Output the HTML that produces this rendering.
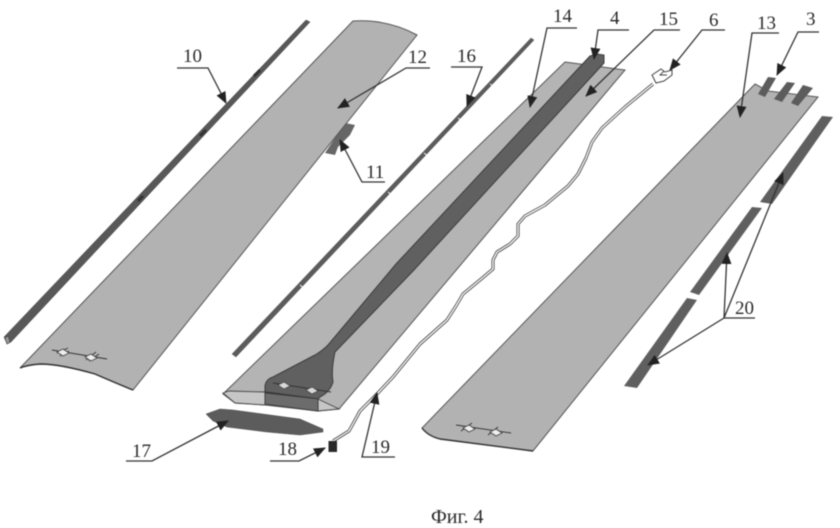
<!DOCTYPE html>
<html><head><meta charset="utf-8">
<style>
html,body{margin:0;padding:0;background:#fff;width:840px;height:528px;overflow:hidden}
svg{display:block}
text{font-family:"Liberation Serif",serif;fill:#2a2a2a;font-size:19px}
.l{fill:none;stroke:#333;stroke-width:1.3}
.e{stroke:#555;stroke-width:1}
.c{fill:none;stroke:#333;stroke-width:.9}
.d{fill:#eee;stroke:#444;stroke-width:.9}
</style></head><body>
<svg width="840" height="528" viewBox="0 0 840 528" xmlns="http://www.w3.org/2000/svg">
<defs>
<marker id="a" viewBox="0 0 12 10" refX="11" refY="5" markerWidth="12" markerHeight="10" markerUnits="userSpaceOnUse" orient="auto"><path d="M0,0L12,5L0,10z" fill="#222"/></marker>
</defs>
<g style="filter:blur(.5px)">
<!-- rod 10 -->
<path d="M306,20L310,22L11,342L7,344L4,337z" fill="#585858" stroke="#444" stroke-width=".5"/>
<path d="M5,338L8,336L10,342L7,344z" fill="#999" stroke="#444" stroke-width=".6"/>
<path d="M260,70L254,76M206,130L200,136M143,196L138,201" stroke="#333" stroke-width="3"/>
<!-- part 11 -->
<path d="M325,153L335,155L338,147L350,135L355,125L345,123z" fill="#666"/>
<!-- blade 12 -->
<path d="M353,21Q388,19 417,35L133,390Q118,384 95,374Q60,364 40,364Q27,365 20,368z" fill="#b2b2b2" class="e"/>
<path d="M20,368Q27,365 40,364Q60,364 95,374Q118,384 133,390" fill="none" stroke="#333" stroke-width="1.4"/>
<g class="c"><path d="M52,350L107,359"/><path d="M57,353L68,348M60,356L69,351M86,360L96,352M89,361L99,354"/></g>
<path d="M57,352L63,349L69,353L63,356z M85,357L91,354L97,358L91,361z" class="d"/>
<!-- rod 16 -->
<path d="M531,38L534,40L236,357L232,354z" fill="#5c5c5c" stroke="#444" stroke-width=".4"/>
<path d="M490,84L497,88M458,118L464,122M424,153L429,157M388,192L393,196M300,285L305,289" stroke="#fff" stroke-width=".9"/>
<!-- mid blade -->
<path d="M565,62L625,70L339,409L318,411L265,405L235,403L223,394z" fill="#b4b4b4" class="e"/>
<path d="M223,393L229,391L265,392L265,405L235,403z" fill="#c6c6c6" stroke="#444" stroke-width=".9"/>
<path d="M318,411L339,409L320,400L318,399z" fill="#c6c6c6" stroke="#444" stroke-width=".9"/>
<!-- spar -->
<path d="M590,56L597,54L604,55L604,63L413,271L335,352Q331,370 333,382Q330,392 320,397L318,399L318,411L265,404L265,386Q266,379 273,377L315,355Q322,351 328,345L396,264z" fill="#606060" stroke="#3c3c3c" stroke-width="1"/>
<path d="M265,392L318,399" fill="none" stroke="#333" stroke-width="1.2"/>
<path d="M265,393L318,399L318,411L265,404z" fill="#6c6c6c" stroke="#3c3c3c" stroke-width=".8"/>
<g class="c"><path d="M273,383L331,392"/></g>
<path d="M278,385L284,382L290,386L284,389z M306,390L312,387L318,391L312,394z" fill="#d8d8d8" stroke="#444" stroke-width=".7"/>
<!-- cover 17 -->
<path d="M206,414L220,409L233,410L300,419L323,429L323,432L300,435L267,432L227,427L213,421z" fill="#5c5c5c" stroke="#4a4a4a" stroke-width=".5"/>
<!-- wire -->
<g fill="none" stroke-linejoin="round">
<polyline points="653,84 625,107 602,128 592,142 586,158 578,174 568,186 545,205 525,216 518,224 518,236 510,244 497,252 493,260 493,269 480,280 463,294 456,306 447,320 420,344 393,377 375,396 360,411 354,422 349,431 333,441" stroke="#555" stroke-width="3.2"/>
<polyline points="653,84 625,107 602,128 592,142 586,158 578,174 568,186 545,205 525,216 518,224 518,236 510,244 497,252 493,260 493,269 480,280 463,294 456,306 447,320 420,344 393,377 375,396 360,411 354,422 349,431 333,441" stroke="#fff" stroke-width="1.3"/>
</g>
<path d="M652,75L661,69L665,72L672,70L672,75L664,81L656,83z" fill="#fff" stroke="#444" stroke-width="1"/>
<path d="M664,71L660,75L667,75" fill="none" stroke="#444" stroke-width=".9"/>
<rect x="328.5" y="441" width="8.5" height="11" fill="#2a2a2a"/>
<!-- blade 13 -->
<path d="M755,84L768,91L818,97L533,451L440,439Q428,436 422,428z" fill="#b2b2b2" class="e"/>
<path d="M422,428Q428,436 440,439L533,451" fill="none" stroke="#333" stroke-width="1.4"/>
<g class="c"><path d="M456,425L511,433"/><path d="M461,431L472,423M488,435L498,427"/></g>
<path d="M463,428L469,425L475,429L469,432z M490,432L496,429L502,433L496,436z" class="d"/>
<!-- tabs 3 -->
<path d="M768,77L776,78L765,97L758,94z M787,82L795,83L782,102L774,99z M803,85L813,88L798,106L791,103z" fill="#5c5c5c"/>
<!-- strips 20 -->
<path d="M822,116L833,117L772,204L760,202z M752,207L762,208L699,295L690,292z M687,298L697,300L637,388L624,386z" fill="#5f5f5f"/>
<!-- leaders -->
<g class="l">
<path d="M177,68H208L226,103" marker-end="url(#a)"/>
<path d="M430,68H406L338,108" marker-end="url(#a)"/>
<path d="M385,182H362L340,140" marker-end="url(#a)"/>
<path d="M451,67H482L467,106" marker-end="url(#a)"/>
<path d="M577,28H547L530,107" marker-end="url(#a)"/>
<path d="M629,30H598L594,59" marker-end="url(#a)"/>
<path d="M680,30H654L586,96" marker-end="url(#a)"/>
<path d="M725,30H702L670,70" marker-end="url(#a)"/>
<path d="M779,33H752L740,117" marker-end="url(#a)"/>
<path d="M819,32H798L777,75" marker-end="url(#a)"/>
<path d="M126,461H152L228,421" marker-end="url(#a)"/>
<path d="M270,461H299L325,448" marker-end="url(#a)"/>
<path d="M395,457H362L377,393" marker-end="url(#a)"/>
<path d="M755,318H724L727,253" marker-end="url(#a)"/>
<path d="M724,318L783,173" marker-end="url(#a)"/>
<path d="M724,318L648,365" marker-end="url(#a)"/>
</g>
<!-- labels -->
<text x="183" y="62">10</text>
<text x="408" y="63">12</text>
<text x="366" y="178">11</text>
<text x="457" y="62">16</text>
<text x="553" y="22">14</text>
<text x="610" y="24">4</text>
<text x="659" y="25">15</text>
<text x="709" y="26">6</text>
<text x="757" y="29">13</text>
<text x="806" y="25">3</text>
<text x="132" y="457">17</text>
<text x="278" y="455">18</text>
<text x="371" y="453">19</text>
<text x="735" y="314">20</text>
<text x="431" y="523" style="font-size:20px">Фиг. 4</text>
</g>
</svg>
</body></html>
